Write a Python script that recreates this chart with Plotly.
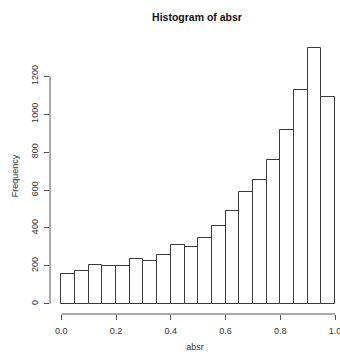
import plotly.graph_objects as go

# Histogram of absr: bin left edges (width 0.05) and frequencies
bin_left = [0.00, 0.05, 0.10, 0.15, 0.20, 0.25, 0.30, 0.35, 0.40, 0.45,
            0.50, 0.55, 0.60, 0.65, 0.70, 0.75, 0.80, 0.85, 0.90, 0.95]
bin_width = 0.05
counts = [158, 171, 206, 201, 199, 238, 225, 259, 312, 299,
          349, 412, 488, 588, 652, 756, 916, 1127, 1348, 1092]

x_ticks = [0.0, 0.2, 0.4, 0.6, 0.8, 1.0]
y_ticks = [0, 200, 400, 600, 800, 1000, 1200]

centers = [b + bin_width / 2 for b in bin_left]
ymax = max(counts)

FONT = "Arial, Liberation Sans, Helvetica, sans-serif"
TXT = "#333333"
AX = "#555555"

fig = go.Figure()
fig.add_trace(go.Bar(
    x=centers, y=counts, width=[bin_width] * len(counts),
    marker=dict(color="white", line=dict(color="#3a3a3a", width=1)),
    hoverinfo="x+y",
))

fig.update_layout(
    width=340, height=355,
    margin=dict(l=50, r=0, t=38, b=41, pad=0),
    plot_bgcolor="white", paper_bgcolor="white",
    showlegend=False,
    bargap=0,
    font=dict(family=FONT, size=9, color=TXT),
    title=dict(text="<b>Histogram of absr</b>", x=0.507, xref="paper",
               xanchor="center", y=1 - 17 / 355, yref="container",
               yanchor="middle", font=dict(size=10.5, color="#111111", family=FONT)),
    xaxis=dict(
        range=[-0.0413, 1.018], showgrid=False, zeroline=False, showline=False,
        tickmode="array", tickvals=x_ticks,
        ticktext=["%.1f" % v for v in x_ticks],
        ticks="outside", ticklen=5, tickcolor=AX, tickwidth=1,
        ticklabelstandoff=3, ticklabeloverflow="allow",
        tickfont=dict(size=9, color=TXT),
        title=dict(text="absr", standoff=8, font=dict(size=9, color=TXT)),
    ),
    yaxis=dict(
        range=[-0.04 * ymax, 1.04 * ymax], showgrid=False, zeroline=False,
        showline=False, tickmode="array", tickvals=y_ticks,
        ticktext=[str(v) for v in y_ticks], tickangle=-90,
        ticks="outside", ticklen=5, tickcolor=AX, tickwidth=1,
        ticklabelstandoff=2,
        tickfont=dict(size=9, color=TXT),
        title=dict(text="Frequency", standoff=10, font=dict(size=9, color=TXT)),
    ),
    shapes=[
        dict(type="line", xref="x", yref="paper", x0=x_ticks[0], x1=x_ticks[-1],
             y0=0, y1=0, line=dict(color=AX, width=1)),
        dict(type="line", xref="paper", yref="y", x0=0, x1=0,
             y0=y_ticks[0], y1=y_ticks[-1], line=dict(color=AX, width=1)),
    ],
)

fig.write_html(
    "out.html",
    config={"displayModeBar": False},
    post_script="document.body.style.margin='0';document.body.style.overflow='hidden';",
)
